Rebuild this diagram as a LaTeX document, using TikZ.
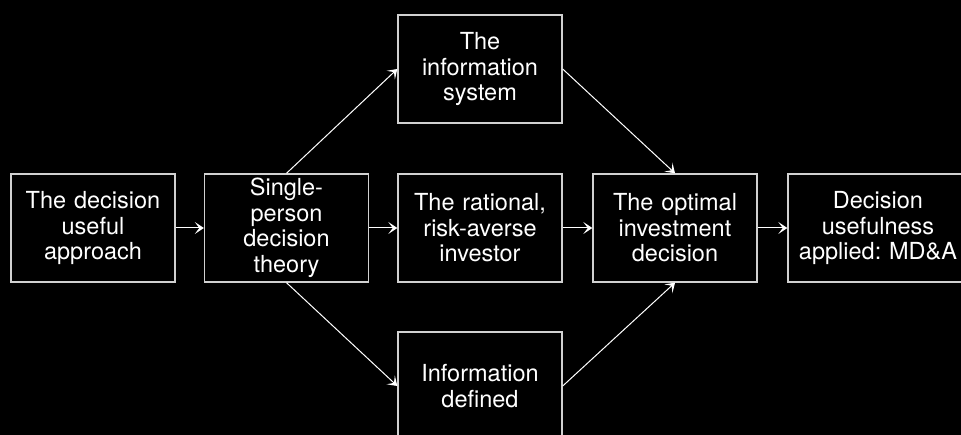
\documentclass[tikz,border=0pt]{standalone}
\usepackage{fontspec}
\setmainfont{TeX Gyre Heros}
\usetikzlibrary{arrows.meta}
\begin{document}
\frenchspacing
\begin{tikzpicture}[x=1pt,y=-1pt,
  boxnode/.style={draw=white!82!black, line width=1.4pt, fill=black, text=white,
    minimum width=164pt, minimum height=108pt, inner sep=0pt, text width=164pt,
    align=center, font=\fontsize{23.5}{25.5}\selectfont},
  conn/.style={draw=white, line width=1pt,
    -{Stealth[length=9pt,width=12pt,inset=4.5pt]}}]
\clip (0,0) rectangle (961,435);
\fill[black] (0,0) rectangle (961,435);
\node[boxnode] (approach) at (93,228) {The decision\\useful\\approach};
\node[boxnode] (single) at (286.5,228) {Single-\\person\\decision\\theory};
\node[boxnode] (info) at (480,69) {The\\information\\system};
\node[boxnode] (rational) at (480,228) {The rational,\\risk-averse\\investor};
\node[boxnode] (defined) at (480,386) {Information\\defined};
\node[boxnode] (optimal) at (675,228) {The optimal\\investment\\decision};
\node[boxnode, minimum width=180pt, text width=180pt] (mda) at (878,228) {Decision\\usefulness\\applied: MD\&A};
\draw[conn] (approach) -- (single);
\draw[conn] (single) -- (rational);
\draw[conn] (rational) -- (optimal);
\draw[conn] (optimal) -- (mda);
\draw[conn] (single.north) -- (info.west);
\draw[conn] (single.south) -- (defined.west);
\draw[conn] (info.east) -- (optimal.north);
\draw[conn] (defined.east) -- (optimal.south);
\end{tikzpicture}
\end{document}
